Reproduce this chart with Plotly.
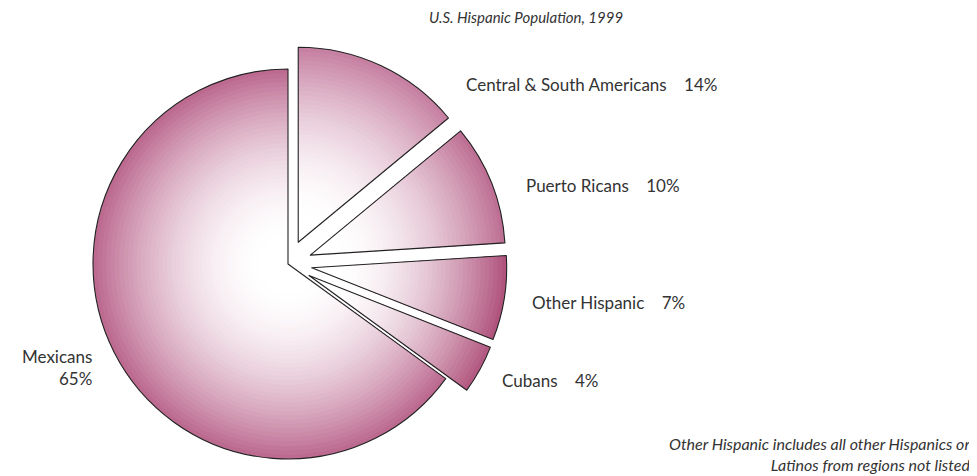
import plotly.graph_objects as go

# ---- data ----
labels = ["Central & South Americans", "Puerto Ricans", "Other Hispanic", "Cubans", "Mexicans"]
values = [14, 10, 7, 4, 65]
pulled = [True, True, True, True, False]
title_text = "U.S. Hispanic Population, 1999"
note_text = "Other Hispanic includes all other Hispanics or<br>Latinos from regions not listed"

# ---- styling ----
W, H = 977, 476
OFF = 8                 # page body margin offset
CX, CY = 288, 264       # pie centre in screen px
R = 195                 # pie radius in px
D = 24                  # pull distance in px
N = 40                  # gradient layers
edge_cols = [(198, 128, 162), (190, 112, 148), (176, 84, 126), (180, 90, 130), (188, 106, 144)]
FONT = "Lato, 'Open Sans', sans-serif"
SP = "\u00a0\u00a0\u00a0\u00a0"


def mix(c, t):
    t = min(1.0, max(0.0, t))
    return "rgb(%d,%d,%d)" % tuple(round(255 + (ci - 255) * t) for ci in c)


def px(x, y):
    return (x - OFF) / W, 1 - (y - OFF) / H


def domain(r):
    s = r + D
    x0, y1 = px(CX - s, CY - s)
    x1, y0 = px(CX + s, CY + s)
    return dict(x=[max(0, x0), min(1, x1)], y=[max(0, y0), min(1, y1)])


fig = go.Figure()
rmin = D * 1.05
for k in range(N):
    r = R - (R - rmin) * k / (N - 1)
    f = max(0.0, (r - rmin) / (R - rmin))
    t = f ** 1.8
    p = min(1.0, D / r)
    fig.add_trace(go.Pie(
        labels=labels, values=values, sort=False, direction="clockwise", rotation=0,
        pull=[p if q else 0 for q in pulled],
        marker=dict(colors=[mix(c, t) for c in edge_cols], line=dict(width=0)),
        textinfo="none", hoverinfo="skip", showlegend=False, domain=domain(r),
    ))

# outline
fig.add_trace(go.Pie(
    labels=labels, values=values, sort=False, direction="clockwise", rotation=0,
    pull=[D / R if q else 0 for q in pulled],
    marker=dict(colors=["rgba(0,0,0,0)"] * len(values), line=dict(color="#222", width=1.1)),
    textinfo="none", hoverinfo="label+percent", showlegend=False, domain=domain(R),
))

ann = []
tx, ty = px(526, 17)
ann.append(dict(text="<i>" + title_text + "</i>", x=tx, y=ty, xanchor="center", yanchor="middle",
                font=dict(size=15, color="#333")))
nx, ny = px(972, 454)
ann.append(dict(text="<i>" + note_text + "</i>", x=nx, y=ny, xanchor="right", yanchor="middle",
                align="right", font=dict(size=16, color="#333")))
label_pos = [(464, 85, "left"), (524, 185, "left"), (530, 302, "left"), (500, 380, "left"), (94, 367, "right")]
for lab, v, (x, y, a) in zip(labels, values, label_pos):
    txt = f"{lab}{SP}{v}%" if a == "left" else f"{lab}<br>{v}%"
    ax, ay = px(x, y)
    ann.append(dict(text=txt, x=ax, y=ay, xanchor=a, yanchor="middle", align=a,
                    font=dict(size=17, color="#333")))
for a in ann:
    a.update(xref="paper", yref="paper", showarrow=False)

fig.update_layout(
    width=W, height=H, margin=dict(l=0, r=0, t=0, b=0),
    paper_bgcolor="white", plot_bgcolor="white",
    font=dict(family=FONT), annotations=ann,
)
fig.write_html("out.html")
